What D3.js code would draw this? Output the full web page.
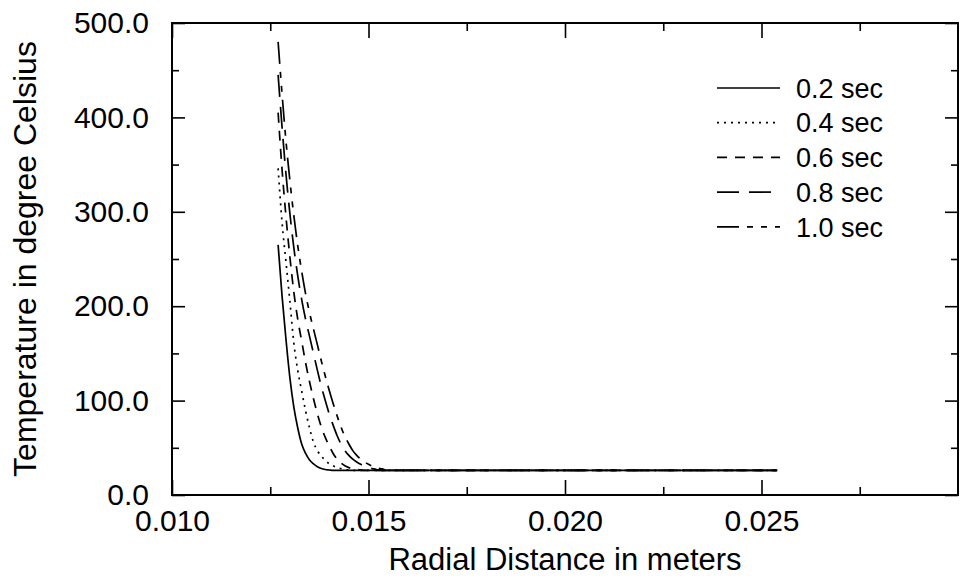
<!DOCTYPE html>
<html><head><meta charset="utf-8">
<script src="https://cdn.jsdelivr.net/npm/d3@7"></script>
<style>body{margin:0;background:#fff}</style>
</head><body>
<svg id="c" width="964" height="580"></svg>
<script>
// Radial distance (m)
const radius = [0.0127,0.0128,0.0129,0.0130,0.0131,0.0132,0.0133,0.0134,0.0135,0.0136,
  0.0137,0.0138,0.0139,0.0140,0.0141,0.0142,0.0143,0.0144,0.0145,0.0146,
  0.0147,0.0148,0.0149,0.0150,0.0151,0.0152,0.0153,0.0154,0.0155,0.0156,0.0254];
// Temperatures (deg C) at each time
const temp02 = [265,211,165,124,93,71,54,44,37,33,30,28,27,26.5,26,26,26,26,26,26,26,26,26,26,26,26,26,26,26,26,26];
const temp04 = [346,289,247,205,161,132,110,89,71,56,47,41,37,33,31,29,28,27,26.5,26,26,26,26,26,26,26,26,26,26,26,26];
const temp06 = [405,345,295,252,215,186,163,140,120,102,86,72,61,52,44,38,34,31,29,28,27,26.5,26,26,26,26,26,26,26,26,26];
const temp08 = [445,390,340,298,262,232,207,186,168,150,132,115,100,86,74,63,54,47,42,38,35,32.5,30.5,29,28,27,26.5,26,26,26,26];
const temp10 = [480,425,375,333,296,264,237,213,193,176,159,142,126,111,97,84,72,62,54,47,42,38,35,32.5,30.5,29,28,27,26.5,26,26];
const seriesLabels = ["0.2 sec","0.4 sec","0.6 sec","0.8 sec","1.0 sec"];
const xMajorTicks = [0.010,0.015,0.020,0.025];
const xMajorLabels = ["0.010","0.015","0.020","0.025"];
const xMinorTicks = [0.0125,0.0175,0.0225,0.0275];
const yMajorTicks = [0,100,200,300,400,500];
const yMajorLabels = ["0.0","100.0","200.0","300.0","400.0","500.0"];
const yMinorTicks = [50,150,250,350,450];
const xTitle = "Radial Distance in meters";
const yTitle = "Temperature in degree Celsius";

const allSeries = [temp02,temp04,temp06,temp08,temp10];
const dashes = [null,"2,5","10,8","22,10","22,8,6,8,6,8"];
const FONT = "'Liberation Sans', Arial, Helvetica, sans-serif";

const svg = d3.select("#c");
const L=172,R=958,T=23,B=495;
const x = d3.scaleLinear().domain([0.010,0.030]).range([L,R]);
const y = d3.scaleLinear().domain([0,500]).range([B,T]);

function styleAxis(g){
  g.select(".domain").remove();
  g.selectAll(".tick line").attr("stroke","#000").attr("stroke-width",1.6);
  g.selectAll(".tick text").attr("fill","#000").style("font-family",FONT).style("font-size","30px");
}
// bottom
svg.append("g").attr("transform",`translate(0,${B})`)
  .call(d3.axisBottom(x).tickValues(xMajorTicks).tickSize(-15).tickPadding(15)
    .tickFormat((d,i)=>xMajorLabels[i])).call(styleAxis);
svg.append("g").attr("transform",`translate(0,${B})`)
  .call(d3.axisBottom(x).tickValues(xMinorTicks).tickSize(-8).tickFormat("")).call(styleAxis);
// top
svg.append("g").attr("transform",`translate(0,${T})`)
  .call(d3.axisTop(x).tickValues(xMajorTicks).tickSize(-15).tickFormat("")).call(styleAxis);
svg.append("g").attr("transform",`translate(0,${T})`)
  .call(d3.axisTop(x).tickValues(xMinorTicks).tickSize(-8).tickFormat("")).call(styleAxis);
// left
svg.append("g").attr("transform",`translate(${L},0)`)
  .call(d3.axisLeft(y).tickValues(yMajorTicks).tickSize(-13).tickPadding(23)
    .tickFormat((d,i)=>yMajorLabels[i])).call(styleAxis);
svg.append("g").attr("transform",`translate(${L},0)`)
  .call(d3.axisLeft(y).tickValues(yMinorTicks).tickSize(-7).tickFormat("")).call(styleAxis);
// right
svg.append("g").attr("transform",`translate(${R},0)`)
  .call(d3.axisRight(y).tickValues(yMajorTicks).tickSize(-13).tickFormat("")).call(styleAxis);
svg.append("g").attr("transform",`translate(${R},0)`)
  .call(d3.axisRight(y).tickValues(yMinorTicks).tickSize(-7).tickFormat("")).call(styleAxis);

// frame
svg.append("rect").attr("x",L).attr("y",T).attr("width",R-L).attr("height",B-T)
  .attr("fill","none").attr("stroke","#000").attr("stroke-width",2);

// titles
svg.append("text").attr("x",(L+R)/2).attr("y",570).attr("text-anchor","middle")
  .style("font-family",FONT).style("font-size","31px").text(xTitle);
svg.append("text").attr("transform",`translate(36,${(T+B)/2}) rotate(-90)`).attr("text-anchor","middle")
  .style("font-family",FONT).style("font-size","32px").text(yTitle);

// lines
const line = d3.line().x(d=>x(d[0])).y(d=>y(d[1])).curve(d3.curveMonotoneX);
allSeries.forEach((s,i)=>{
  svg.append("path").datum(radius.map((r,j)=>[r,s[j]]))
    .attr("d",line).attr("fill","none").attr("stroke","#000").attr("stroke-width",1.7)
    .attr("stroke-dasharray",dashes[i]);
});

// legend
const lg = svg.append("g");
seriesLabels.forEach((lab,i)=>{
  const yy = 88 + i*34.7;
  lg.append("line").attr("x1",717).attr("x2",780).attr("y1",yy).attr("y2",yy)
    .attr("stroke","#000").attr("stroke-width",1.7).attr("stroke-dasharray",dashes[i]);
  lg.append("text").attr("x",796).attr("y",yy).attr("dy","0.36em")
    .style("font-family",FONT).style("font-size","27px").text(lab);
});
</script>
</body></html>
